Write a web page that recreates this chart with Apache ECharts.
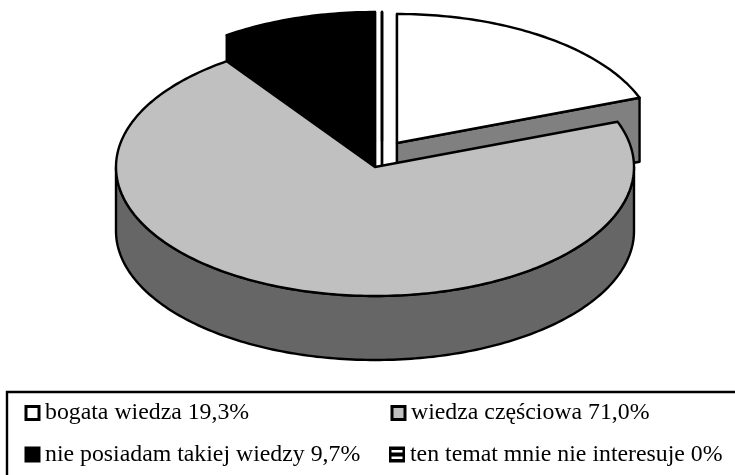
<!DOCTYPE html>
<html>
<head>
<meta charset="utf-8">
<style>html,body{margin:0;padding:0;background:#fff}#c{width:735px;height:475px}</style>
<script src="https://cdn.jsdelivr.net/npm/echarts@6/dist/echarts.min.js"></script>
</head>
<body>
<div id="c"></div>
<script>
// Data
const categories = ['bogata wiedza', 'wiedza częściowa', 'nie posiadam takiej wiedzy', 'ten temat mnie nie interesuje'];
const values = [19.3, 71.0, 9.7, 0];
const valueLabels = ['19,3%', '71,0%', '9,7%', '0%'];

// Style and layout
const topColors = ['#ffffff', '#c0c0c0', '#000000', '#ffffff'];
const wallColors = ['#808080', '#666666', '#000000', '#808080'];
const explodeX = [22, 0, 0, 7];
const explodeY = [-24, 0, -26, -26];
const drawOrder = [1, 4, 3, 2];
const legendLeft = [24.5, 390.5, 24.5, 389];
const legendTop = [401, 401, 442.5, 442.5];
const CX = 375, CY = 167, RX = 259, RY = 129, DEPTH = 64;
const LINE = 2.4;
const STRIPES = 'path://M0 0H16V16H0Z M2.5 3.5V6H13.5V3.5Z M2.5 10V12.5H13.5V10Z';

const total = values.reduce((a, b) => a + b, 0);
const rad = d => d * Math.PI / 180;

function sliceRenderer(i) {
  const before = values.slice(0, i).reduce((a, b) => a + b, 0);
  return function (params, api) {
    const a0 = 90 - before / total * 360;
    const a1 = a0 - api.value(0) / total * 360;
    const cx = CX + explodeX[i], cy = CY + explodeY[i];
    const pt = (a, d) => [cx + RX * Math.cos(rad(a)), cy - RY * Math.sin(rad(a)) + (d || 0)];
    const style = f => ({ fill: f, stroke: '#000', lineWidth: LINE, lineJoin: 'round' });
    const arc = (hi, lo, d) => {
      const out = [];
      const n = Math.max(1, Math.ceil(hi - lo));
      for (let k = 0; k <= n; k++) out.push(pt(hi - (hi - lo) * k / n, d));
      return out;
    };
    const kids = [];
    const quad = a => kids.push({
      type: 'polygon',
      shape: { points: [[cx, cy], pt(a), pt(a, DEPTH), [cx, cy + DEPTH]] },
      style: style(wallColors[i])
    });
    if (Math.cos(rad(a0)) <= 1e-9) quad(a0);
    if (Math.cos(rad(a1)) >= -1e-9) quad(a1);
    const hi = Math.min(a0, 0), lo = Math.max(a1, -180);
    if (lo < hi) {
      kids.push({
        type: 'polygon',
        shape: { points: arc(hi, lo, 0).concat(arc(hi, lo, DEPTH).reverse()) },
        style: style(wallColors[i])
      });
    }
    kids.push({
      type: 'polygon',
      shape: { points: [[cx, cy]].concat(arc(a0, a1, 0)) },
      style: style(topColors[i])
    });
    return { type: 'group', children: kids };
  };
}

const names = categories.map((c, i) => c + ' ' + valueLabels[i]);

const option = {
  animation: false,
  backgroundColor: '#fff',
  graphic: [{
    type: 'rect',
    shape: { x: 7, y: 392, width: 900, height: 200 },
    style: { fill: 'none', stroke: '#000', lineWidth: 2.4 },
    silent: true
  }],
  legend: names.map((n, i) => ({
    data: [{ name: n, icon: i === 3 ? STRIPES : 'rect' }],
    left: legendLeft[i],
    top: legendTop[i],
    padding: 0,
    itemWidth: i === 3 ? 16 : 13,
    itemHeight: i === 3 ? 16 : 13,
    selectedMode: false,
    itemStyle: {
      color: i === 3 ? '#000' : topColors[i],
      borderColor: '#000',
      borderWidth: i === 3 ? 0 : 3
    },
    textStyle: { fontFamily: 'Liberation Serif', fontSize: 23.8, color: '#000', padding: [0, 0, 0, i === 3 ? 0 : 1] }
  })),
  series: values.map((v, i) => ({
    type: 'custom',
    name: names[i],
    coordinateSystem: 'none',
    z: drawOrder[i],
    silent: true,
    renderItem: sliceRenderer(i),
    data: [[v]],
    itemStyle: { color: topColors[i], borderColor: '#000' }
  }))
};

echarts.init(document.getElementById('c'), null, { renderer: 'canvas' }).setOption(option);
</script>
</body>
</html>
